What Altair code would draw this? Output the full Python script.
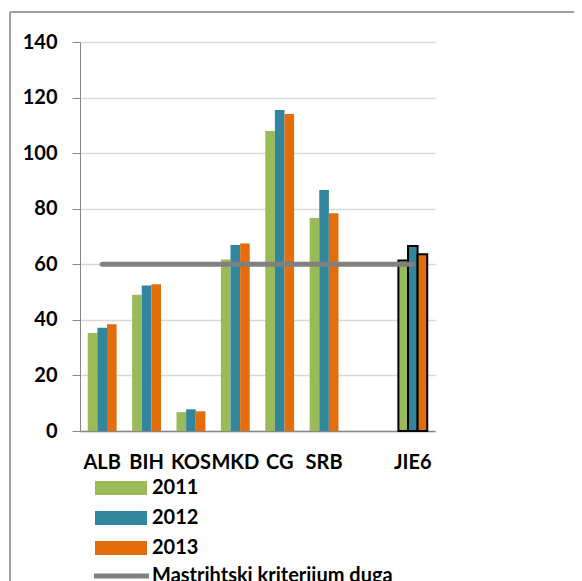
import altair as alt
import pandas as pd

countries = ["ALB", "BIH", "KOS", "MKD", "CG", "SRB", "JIE6"]
x_domain = ["ALB", "BIH", "KOS", "MKD", "CG", "SRB", " ", "JIE6"]
years = ["2011", "2012", "2013"]
v2011 = [35.3, 49.0, 6.8, 61.7, 108.0, 76.7, 61.4]
v2012 = [37.2, 52.4, 7.8, 66.9, 115.5, 86.7, 66.6]
v2013 = [38.4, 52.8, 7.1, 67.5, 114.1, 78.4, 63.6]
criterion_name = "Mastrihtski kriterijum duga"
criterion_value = 60
criterion_span = ["ALB", "JIE6"]

colors = ["#9BBB59", "#31859C", "#E46C0A"]
line_color = "#808080"

rows = []
for yr, vals in zip(years, [v2011, v2012, v2013]):
    for c, v in zip(countries, vals):
        rows.append({"country": c, "year": yr, "value": v})
bars_df = pd.DataFrame(rows)
line_df = pd.DataFrame({"country": criterion_span,
                        "value": [criterion_value] * len(criterion_span),
                        "series": [criterion_name] * len(criterion_span)})

FONT = "Lato"

x_enc = alt.X("country:N", scale=alt.Scale(domain=x_domain, paddingInner=0.35, paddingOuter=0.175),
              sort=x_domain,
              axis=alt.Axis(title=None, labelAngle=0, ticks=False, labelFont=FONT, labelFontSize=20,
                            labelFontWeight="bold", labelColor="black", labelPadding=21,
                            domainColor="#868686", domainWidth=1.5, grid=False))
y_scale = alt.Scale(domain=[0, 140])

bars = alt.Chart(bars_df).mark_bar(stroke="black").encode(
    x=x_enc,
    xOffset=alt.XOffset("year:N", scale=alt.Scale(paddingInner=0, paddingOuter=0)),
    y=alt.Y("value:Q", scale=y_scale,
            axis=alt.Axis(title=None, values=list(range(0, 141, 20)), tickSize=8, tickColor="#868686",
                          domainColor="#868686", gridColor="#D9D9D9", gridWidth=1.5,
                          labelFont=FONT, labelFontSize=20, labelFontWeight="bold",
                          labelColor="black", labelPadding=15)),
    fill=alt.Fill("year:N", scale=alt.Scale(domain=years, range=colors),
                  legend=alt.Legend(title=None, orient="none", legendX=31, legendY=436,
                                    symbolType="M-3.714,-1L3.714,-1L3.714,1L-3.714,1Z",
                                    symbolSize=196, symbolStrokeWidth=0,
                                    labelFont=FONT, labelFontSize=20, labelFontWeight="bold",
                                    labelColor="black", labelOffset=21, rowPadding=10, padding=0)),
    strokeWidth=alt.condition(alt.datum.country == "JIE6", alt.value(2), alt.value(0)),
)

line = alt.Chart(line_df).mark_line(strokeWidth=5, strokeCap="round").encode(
    x=alt.X("country:N", scale=alt.Scale(domain=x_domain), sort=x_domain),
    y=alt.Y("value:Q", scale=y_scale),
    stroke=alt.Stroke("series:N", scale=alt.Scale(domain=[criterion_name], range=[line_color]),
                      legend=alt.Legend(title=None, orient="none", legendX=31.5, legendY=524,
                                        symbolType="M-3.93,0L3.93,0", symbolSize=196,
                                        symbolStrokeWidth=5,
                                        labelFont=FONT, labelFontSize=20, labelFontWeight="bold",
                                        labelColor="black", labelOffset=20.5, labelLimit=500,
                                        padding=0)),
)

frame_left = alt.Chart(line_df).mark_rule(color="#A0A0A0", strokeWidth=2).encode(
    x=alt.value(-70), y=alt.value(-30), y2=alt.value(700))
frame_top = alt.Chart(line_df).mark_rule(color="#A0A0A0", strokeWidth=2).encode(
    x=alt.value(-70), x2=alt.value(700), y=alt.value(-30))

chart = alt.layer(bars, line, frame_left, frame_top).properties(
    width=355, height=389,
    autosize=alt.AutoSizeParams(type="none"),
    padding={"left": 72, "top": 34, "right": 139, "bottom": 150},
).configure_view(stroke=None)

chart.save("out.html", embed_options={"renderer": "svg", "actions": False})
